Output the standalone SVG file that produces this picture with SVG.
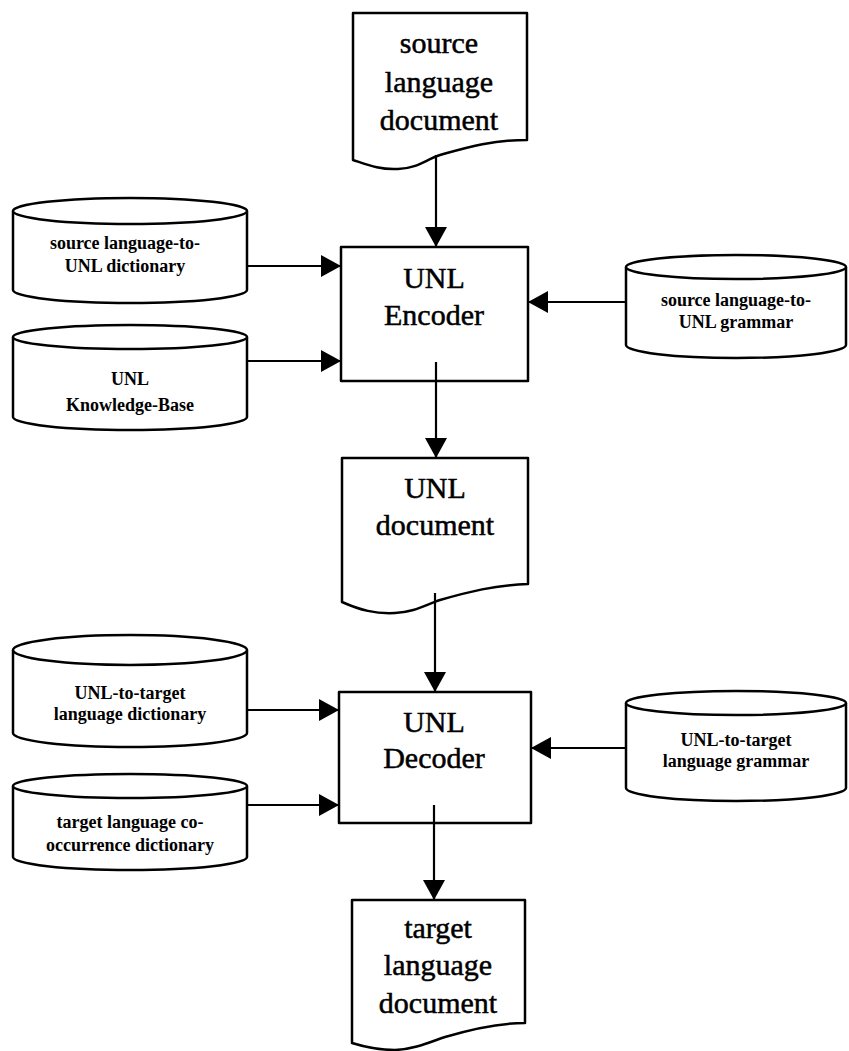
<svg xmlns="http://www.w3.org/2000/svg" width="849" height="1051" viewBox="0 0 849 1051">
<style>
.shape{fill:#fff;stroke:#000;stroke-width:2.5;stroke-linejoin:round}
.big{font-family:"Liberation Serif",serif;font-size:30px;text-anchor:middle;fill:#000;stroke:#000;stroke-width:0.5}
.small{font-family:"Liberation Serif",serif;font-size:18px;font-weight:bold;text-anchor:middle;fill:#000}
.conn{stroke:#000;stroke-width:2.2;fill:none}
</style>
<defs>
<marker id="arr" viewBox="0 0 20 22" refX="20" refY="11" markerWidth="20" markerHeight="22" markerUnits="userSpaceOnUse" orient="auto">
<path d="M0,0 L20,11 L0,22 Z" fill="#000"/>
</marker>
</defs>
<rect width="849" height="1051" fill="#fff"/>

<g id="source-doc">
<path class="shape" d="M353,13 H527 V140 C490,140 465,148 440,155 C425,160 418,168 398,169 C380,170 368,165 353,160 Z"/>
<text class="big" x="439" y="53">source</text>
<text class="big" x="439" y="92">language</text>
<text class="big" x="439" y="130">document</text>
</g>

<g id="encoder">
<rect class="shape" x="341" y="247" width="187" height="134"/>
<text class="big" x="434" y="288">UNL</text>
<text class="big" x="434" y="325">Encoder</text>
</g>

<g id="unl-doc">
<path class="shape" d="M342,458 H528 V584 C495,585 468,592 440,600 C425,605 415,612 395,613 C375,614 360,610 342,602 Z"/>
<text class="big" x="435" y="498">UNL</text>
<text class="big" x="435" y="535">document</text>
</g>

<g id="decoder">
<rect class="shape" x="339" y="692" width="192" height="131"/>
<text class="big" x="434" y="732">UNL</text>
<text class="big" x="434" y="768">Decoder</text>
</g>

<g id="target-doc">
<path class="shape" d="M352,900 H525 V1023 C500,1023 475,1028 445,1037 C430,1042 415,1049 395,1050 C380,1050 365,1047 352,1043 Z"/>
<text class="big" x="438" y="938">target</text>
<text class="big" x="438" y="975">language</text>
<text class="big" x="438" y="1013">document</text>
</g>

<g id="src-dict">
<path class="shape" d="M13,211 V290 A117,13 0 0 0 247,290 V211"/>
<ellipse class="shape" cx="130" cy="211" rx="117" ry="13"/>
<text class="small" x="125" y="249">source language-to-</text>
<text class="small" x="125" y="272">UNL dictionary</text>
</g>

<g id="unl-kb">
<path class="shape" d="M13,337 V417 A117,13 0 0 0 247,417 V337"/>
<ellipse class="shape" cx="130" cy="337" rx="117" ry="12"/>
<text class="small" x="130" y="385">UNL</text>
<text class="small" x="130" y="411">Knowledge-Base</text>
</g>

<g id="src-grammar">
<path class="shape" d="M626,267 V345 A110,13 0 0 0 846,345 V267"/>
<ellipse class="shape" cx="736" cy="267" rx="110" ry="12"/>
<text class="small" x="736" y="306">source language-to-</text>
<text class="small" x="736" y="328">UNL grammar</text>
</g>

<g id="tgt-dict">
<path class="shape" d="M13,650 V733 A117,14 0 0 0 247,733 V650"/>
<ellipse class="shape" cx="130" cy="650" rx="117" ry="15"/>
<text class="small" x="130" y="699">UNL-to-target</text>
<text class="small" x="130" y="720">language dictionary</text>
</g>

<g id="cooc-dict">
<path class="shape" d="M13,786 V857 A117,13 0 0 0 247,857 V786"/>
<ellipse class="shape" cx="130" cy="786" rx="117" ry="12"/>
<text class="small" x="130" y="828">target language co-</text>
<text class="small" x="130" y="851">occurrence dictionary</text>
</g>

<g id="tgt-grammar">
<path class="shape" d="M626,703 V788 A110,13 0 0 0 846,788 V703"/>
<ellipse class="shape" cx="736" cy="703" rx="110" ry="12"/>
<text class="small" x="736" y="746">UNL-to-target</text>
<text class="small" x="736" y="767">language grammar</text>
</g>

<g id="connectors">
<line class="conn" x1="436" y1="155" x2="436" y2="247" marker-end="url(#arr)"/>
<line class="conn" x1="247" y1="266" x2="341" y2="266" marker-end="url(#arr)"/>
<line class="conn" x1="247" y1="361" x2="341" y2="361" marker-end="url(#arr)"/>
<line class="conn" x1="626" y1="302" x2="528" y2="302" marker-end="url(#arr)"/>
<line class="conn" x1="436" y1="362" x2="436" y2="458" marker-end="url(#arr)"/>
<line class="conn" x1="435" y1="593" x2="435" y2="692" marker-end="url(#arr)"/>
<line class="conn" x1="247" y1="710" x2="339" y2="710" marker-end="url(#arr)"/>
<line class="conn" x1="247" y1="805" x2="339" y2="805" marker-end="url(#arr)"/>
<line class="conn" x1="626" y1="748" x2="531" y2="748" marker-end="url(#arr)"/>
<line class="conn" x1="434" y1="805" x2="434" y2="900" marker-end="url(#arr)"/>
</g>
</svg>
